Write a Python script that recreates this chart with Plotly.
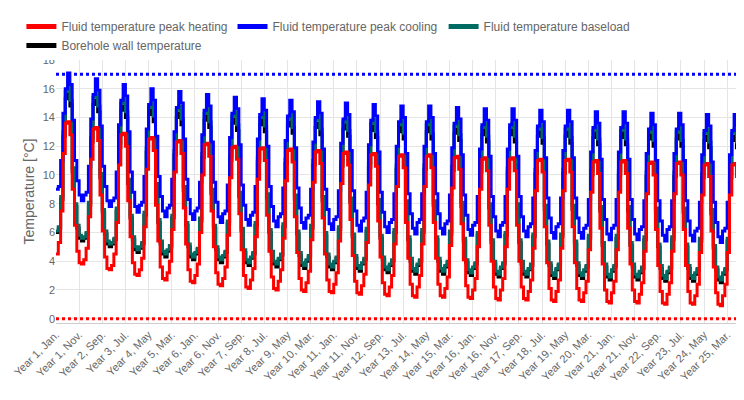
import plotly.graph_objects as go

months = ["Jan.", "Feb.", "Mar.", "Apr.", "May", "Jun.", "Jul.", "Aug.", "Sep.", "Oct.", "Nov.", "Dec."]
n_years = 25

# first-year monthly profile per series (degC)
heating_year1 = [4.5, 5.3, 7.5, 11.5, 13.6, 13.7, 12.8, 9.0, 6.5, 4.7, 3.9, 3.8]
cooling_year1 = [9.0, 9.2, 11.0, 14.3, 16.0, 17.1, 16.3, 13.8, 11.0, 9.6, 8.6, 8.2]
baseload_year1 = [6.1, 6.4, 8.5, 13.0, 15.8, 16.1, 15.2, 10.5, 8.0, 6.5, 5.8, 5.6]
borehole_year1 = [6.0, 6.3, 8.3, 12.7, 15.3, 15.6, 14.8, 10.2, 7.8, 6.3, 5.6, 5.4]

# yearly drift read from the peaks
year_shift = [0.0, -0.4, -0.8, -1.1, -1.3, -1.5, -1.7, -1.8, -1.9, -2.0, -2.1, -2.2, -2.3,
              -2.3, -2.4, -2.5, -2.5, -2.6, -2.6, -2.7, -2.7, -2.8, -2.8, -2.9, -2.9]

t_max = 17
t_min = 0

labels = [f"Year {y + 1}, {m}" for y in range(n_years) for m in months]

def expand(profile):
    return [round(v + year_shift[y], 2) for y in range(n_years) for v in profile]

fig = go.Figure()
series = [
    ("Borehole wall temperature", borehole_year1, "#000000", 4),
    ("Fluid temperature baseload", baseload_year1, "#006b63", 3),
    ("Fluid temperature peak cooling", cooling_year1, "#0000ff", 2),
    ("Fluid temperature peak heating", heating_year1, "#ff0000", 1),
]
for name, prof, col, rank in series:
    fig.add_trace(go.Scatter(x=labels, y=expand(prof), name=name, mode="lines",
                             line=dict(color=col, width=3, shape="hv"), legendrank=rank))

fig.add_trace(go.Scatter(x=labels, y=[t_max] * len(labels), mode="lines", showlegend=False,
                         line=dict(color="#0000ff", width=3, dash="dot")))
fig.add_trace(go.Scatter(x=labels, y=[t_min] * len(labels), mode="lines", showlegend=False,
                         line=dict(color="#ff0000", width=3, dash="dot")))

fig.update_layout(
    width=744, height=400,
    margin=dict(l=42, r=4, t=50, b=85),
    plot_bgcolor="white", paper_bgcolor="white",
    font=dict(family="Liberation Sans, Arial", size=12, color="#666"),
    legend=dict(orientation="h", x=-0.05, y=1.0, yanchor="bottom", xanchor="left",
                itemsizing="constant", traceorder="normal", font=dict(size=12)),
    showlegend=True,
)
fig.update_xaxes(tickvals=labels[::10], ticktext=labels[::10], tickangle=-45,
                 showgrid=True, gridcolor="#e5e5e5", linecolor="#ccc", ticks="",
                 tickfont=dict(size=11))
fig.update_yaxes(range=[-0.3, 18], dtick=2, showgrid=True, gridcolor="#e5e5e5",
                 zeroline=False, tickfont=dict(size=11),
                 title=dict(text="Temperature [°C]", standoff=4))

fig.write_html("out.html")
